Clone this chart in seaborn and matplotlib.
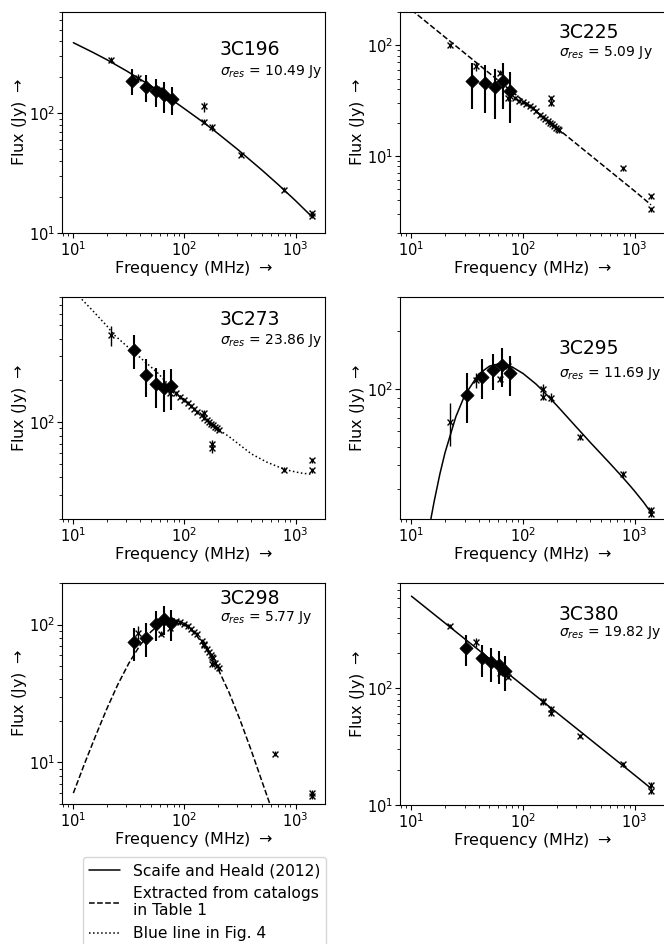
import numpy as np
import pandas as pd
import matplotlib
matplotlib.use("Agg")
import matplotlib.pyplot as plt
from matplotlib.lines import Line2D
from matplotlib.ticker import NullFormatter
import seaborn as sns

# ---- 3C196 ----
f196_d = [34, 45, 56, 66, 78]
s196_d = [187, 167, 152, 141, 131]
e196_d = [45, 42, 40, 40, 35]
f196_x = [22, 38, 62, 151, 151, 178, 325, 785, 1400, 1400]
s196_x = [278, 198, 158, 114, 85, 76, 45, 23, 14.7, 13.9]
e196_x = [15, 15, 6, 11, 4, 5, 2, 1, 0.6, 0.6]
f196_c = [10, 15, 20, 30, 50, 70, 100, 150, 200, 300, 500, 700, 1000, 1400]
s196_c = [388, 322, 280, 226, 169, 138, 109, 83.1, 67.7, 50.0, 33.4, 25.3, 18.6, 13.7]

# ---- 3C225 ----
f225_d = [35, 46, 56, 66, 77]
s225_d = [47.7, 45.2, 41.6, 47.7, 38.8]
e225_d = [21, 21, 20, 21, 19]
f225_x = [22, 38, 62, 74, 76, 84, 92, 99, 107, 115, 122, 130, 143, 151, 158, 166,
          174, 181, 189, 197, 204, 212, 178, 178, 785, 1400, 1400]
s225_x = [100, 64.7, 56.4, 33, 35, 33.5, 31.5, 30.5, 29.5, 28, 27, 25.5, 23.5, 22.5,
          21.5, 20.5, 20, 19.3, 18.6, 18, 17.5, 17, 33, 30, 7.7, 4.3, 3.27]
e225_x = [5, 6, 3, 2, 1.5, 1.5, 1.4, 1.3, 1.3, 1.2, 1.2, 1.1, 1.1, 1.0,
          1.0, 1.0, 0.9, 0.9, 0.9, 0.8, 0.8, 0.8, 2, 2, 0.4, 0.2, 0.15]
f225_c = [10, 100, 1000, 1400]
s225_c = [209, 31.6, 4.79, 3.6]

# ---- 3C273 ----
f273_d = [35, 45.5, 55.6, 65.6, 76]
s273_d = [332, 218, 187, 177, 182]
e273_d = [90, 67, 60, 59, 60]
f273_x = [22, 74, 76, 84, 92, 99, 107, 115, 122, 130, 143, 151, 158, 166, 174, 181,
          189, 197, 204, 151, 178, 178, 785, 1400, 1400]
s273_x = [425, 163, 172, 161, 153, 144, 137, 131, 125, 119, 113, 108, 104, 100, 97,
          95, 92, 90, 88, 116, 69, 65, 45.4, 53, 44.9]
e273_x = [70, 8, 6, 6, 5, 5, 5, 5, 4, 4, 4, 4, 4, 4, 3, 3,
          3, 3, 3, 6, 5, 5, 2, 2, 2]
f273_c = [10, 15, 20, 23, 30, 40, 57, 80, 100, 150, 200, 250, 400, 550, 800, 1100, 1400]
s273_c = [890, 635, 495, 430, 356, 292, 228, 170, 145, 108, 89, 79, 59, 51.5, 45.5, 43, 42]

# ---- 3C295 ----
f295_d = [31.6, 42.6, 53.4, 64.8, 76.4]
s295_d = [93, 115, 125, 132.5, 120]
e295_d = [27, 27, 27, 30, 28]
f295_x = [22, 38, 62, 74, 151, 151, 178, 325, 785, 1400, 1400]
s295_x = [67.5, 111, 113, 131, 100, 91, 90, 55.8, 35.8, 23.3, 22.4]
e295_x = [17, 10, 4, 4, 6, 4, 5, 2, 1.5, 1, 1]
f295_c = [14, 15, 16, 18, 20, 25, 30, 40, 50, 60, 70, 80, 100, 130, 150, 200, 300,
          400, 500, 600, 750, 900, 1000, 1200, 1400]
s295_c = [16.9, 21.3, 26.0, 36.1, 46.5, 71.5, 92.3, 119, 131, 134.5, 133, 129.7, 120,
          106, 97.8, 82.0, 63.2, 52.6, 45.8, 40.9, 35.5, 31.5, 29.3, 25.7, 22.7]

# ---- 3C298 ----
f298_d = [35.2, 45.5, 55.6, 65.6, 76.3]
s298_d = [74.6, 79.8, 100.5, 110, 102]
e298_d = [20, 22, 25, 26, 26]
f298_x = [38, 62, 74, 76, 84, 92, 99, 107, 115, 122, 130, 143, 151, 158, 166, 174,
          181, 189, 197, 204, 151, 178, 178, 650, 1400, 1400]
s298_x = [87, 86, 95, 104, 106, 104, 101, 97, 93, 89, 85, 76, 71, 67, 63, 60,
          57, 53, 50, 48, 72, 58, 52, 11.6, 6.0, 5.7]
e298_x = [10, 4, 5, 4, 4, 4, 4, 4, 3, 3, 3, 3, 3, 3, 2, 2,
          2, 2, 2, 2, 4, 3, 3, 0.5, 0.3, 0.3]
f298_c = [10, 12.6, 15.8, 20, 25.1, 31.6, 39.8, 50.1, 63.1, 79.4, 100, 126, 158, 200,
          251, 316, 398, 501, 603]
s298_c = [6.0, 9.8, 15.5, 24.5, 36.7, 52.5, 70.8, 89, 103.5, 110, 101, 85, 66, 47.9,
          32.4, 20.4, 12.3, 7.2, 4.7]

# ---- 3C380 ----
f380_d = [30.8, 42.8, 52, 60.4, 69.3]
s380_d = [220, 181, 167, 158.5, 141.6]
e380_d = [65, 55, 53, 50, 47]
f380_x = [22, 38, 62, 74, 151, 151, 178, 178, 325, 785, 1400, 1400]
s380_x = [342, 248, 136, 126, 78.3, 76, 66, 62, 39.3, 22.3, 14.8, 13.3]
e380_x = [12, 20, 5, 5, 5, 4, 4, 4, 1.5, 1, 0.8, 0.8]
f380_c = [10, 100, 1000, 1400]
s380_c = [617, 105.6, 18.05, 13.9]

names = ["3C196", "3C225", "3C273", "3C295", "3C298", "3C380"]
sigmas = ["10.49", "5.09", "23.86", "11.69", "5.77", "19.82"]
ylims = [(10, 700), (2, 200), (20, 800), (21, 300), (5, 200), (10, 800)]
styles = ["-", "--", ":", "-", "--", "-"]
text_pos = [(0.6, 0.83, 0.73), (0.6, 0.905, 0.815), (0.6, 0.9, 0.805),
            (0.6, 0.77, 0.655), (0.6, 0.93, 0.845), (0.6, 0.86, 0.775)]

panels = [
    (f196_d, s196_d, e196_d, f196_x, s196_x, e196_x, f196_c, s196_c),
    (f225_d, s225_d, e225_d, f225_x, s225_x, e225_x, f225_c, s225_c),
    (f273_d, s273_d, e273_d, f273_x, s273_x, e273_x, f273_c, s273_c),
    (f295_d, s295_d, e295_d, f295_x, s295_x, e295_x, f295_c, s295_c),
    (f298_d, s298_d, e298_d, f298_x, s298_x, e298_x, f298_c, s298_c),
    (f380_d, s380_d, e380_d, f380_x, s380_x, e380_x, f380_c, s380_c),
]

sns.set_style("ticks", {"axes.edgecolor": "black", "xtick.color": "black",
                        "ytick.color": "black", "text.color": "black",
                        "axes.labelcolor": "black"})
plt.rcParams["font.family"] = ["DejaVu Sans"]
plt.rcParams["mathtext.fontset"] = "dejavusans"

W, H = 664, 944
fig = plt.figure(figsize=(W / 100, H / 100), dpi=100)

# axes boxes in pixels: left, top, width, height
boxes = [(62, 12, 263, 221), (400, 12, 265, 221),
         (62, 297, 263, 222), (400, 297, 265, 222),
         (62, 583, 263, 221), (400, 583, 265, 222)]

for i, (fd, sd, ed, fx, sx, ex, fc, sc) in enumerate(panels):
    l, t, w, h = boxes[i]
    ax = fig.add_axes([l / W, 1 - (t + h) / H, w / W, h / H])
    ax.set_xscale("log")
    ax.set_yscale("log")

    df_c = pd.DataFrame({"freq": fc, "flux": sc})
    sns.lineplot(data=df_c, x="freq", y="flux", ax=ax, color="black",
                 linestyle=styles[i], linewidth=1.1, sort=False, legend=False)

    ax.errorbar(fx, sx, yerr=ex, fmt="none", ecolor="black", elinewidth=1.0, zorder=3)
    df_x = pd.DataFrame({"freq": fx, "flux": sx})
    sns.scatterplot(data=df_x, x="freq", y="flux", ax=ax, marker="x", color="black",
                    s=18, linewidth=1.0, zorder=4, legend=False)

    ax.errorbar(fd, sd, yerr=ed, fmt="none", ecolor="black", elinewidth=1.5, zorder=5)
    df_d = pd.DataFrame({"freq": fd, "flux": sd})
    sns.scatterplot(data=df_d, x="freq", y="flux", ax=ax, marker="D", color="black",
                    edgecolor="black", s=45, zorder=6, legend=False)

    ax.set_xlim(7.9, 1840 if w == 263 else 1870)
    ax.set_ylim(*ylims[i])
    ax.yaxis.set_minor_formatter(NullFormatter())
    ax.xaxis.set_minor_formatter(NullFormatter())
    ax.tick_params(which="major", labelsize=10.5, pad=1.5)
    ax.set_xlabel("Frequency (MHz) $\\rightarrow$", fontsize=11.5, labelpad=0)
    ax.set_ylabel("Flux (Jy) $\\rightarrow$", fontsize=11.5, labelpad=0)

    tx, ty1, ty2 = text_pos[i]
    ax.text(tx, ty1, names[i], transform=ax.transAxes, fontsize=13.5, va="center")
    ax.text(tx, ty2, "$\\sigma_{res}$ = " + sigmas[i] + " Jy", transform=ax.transAxes,
            fontsize=10, va="center")

handles = [Line2D([], [], color="black", linestyle="-", linewidth=1.1),
           Line2D([], [], color="black", linestyle="--", linewidth=1.1),
           Line2D([], [], color="black", linestyle=":", linewidth=1.1)]
labels = ["Scaife and Heald (2012)", "Extracted from catalogs\nin Table 1",
          "Blue line in Fig. 4"]
fig.legend(handles, labels, loc="upper left", bbox_to_anchor=(83 / W, 1 - 857 / H),
           borderaxespad=0, fontsize=11.2, frameon=True)

fig.savefig("out.png", dpi=100)
